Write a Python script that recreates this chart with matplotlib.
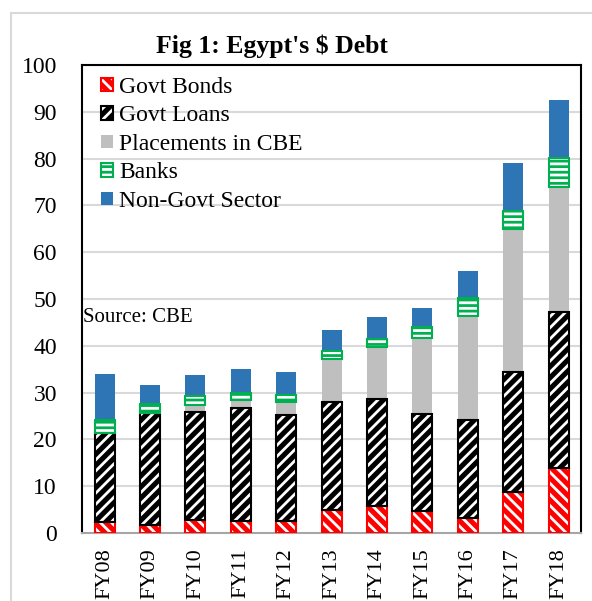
import numpy as np
import matplotlib
matplotlib.use("Agg")
import matplotlib.pyplot as plt
from matplotlib.lines import Line2D

plt.rcParams["font.family"] = ["Liberation Serif", "DejaVu Serif"]
plt.rcParams["hatch.linewidth"] = 2.0

# Egypt's external debt by holder, $ bn
years = ["FY08", "FY09", "FY10", "FY11", "FY12", "FY13",
         "FY14", "FY15", "FY16", "FY17", "FY18"]
govt_bonds = [2.4, 1.7, 2.8, 2.5, 2.6, 4.9, 5.8, 4.8, 3.3, 8.8, 13.9]
govt_loans = [19.0, 24.0, 23.1, 24.2, 22.6, 23.2, 22.9, 20.6, 20.8, 25.7, 33.4]
placements = [0.0, 0.0, 1.4, 1.7, 2.8, 9.1, 11.0, 16.3, 22.2, 30.5, 26.7]
banks = [2.7, 1.8, 2.0, 1.6, 1.5, 1.6, 1.7, 2.4, 4.0, 3.9, 6.1]
non_govt = [9.8, 4.1, 4.4, 5.0, 4.9, 4.5, 4.7, 4.0, 5.6, 10.1, 12.4]

series = [
    ("Govt Bonds", govt_bonds, "#FF0000", "white", "\\\\\\", "#FF0000"),
    ("Govt Loans", govt_loans, "black", "white", "///", "black"),
    ("Placements in CBE", placements, "#BFBFBF", "#BFBFBF", "", None),
    ("Banks", banks, "#00B050", "white", "---", "#00B050"),
    ("Non-Govt Sector", non_govt, "#2E75B6", "#2E75B6", "", None),
]

fig = plt.figure(figsize=(5.92, 6.01), dpi=100)
ax = fig.add_axes([0.1385, 0.113, 0.8435, 0.779])

x = np.arange(len(years))
w = 0.44
bottom = np.zeros(len(years))
handles = []
for label, vals, fc, hc, hatch, border in series:
    vals = np.array(vals)
    b = ax.bar(x, vals, w, bottom=bottom, color=fc, edgecolor=hc,
               hatch=hatch, linewidth=0, zorder=3)
    if border:
        e = ax.bar(x, vals, w, bottom=bottom, fill=False, edgecolor=border,
                   linewidth=1.5, zorder=4)
        handles.append((b, e))
    else:
        handles.append(b)
    bottom += vals

ax.set_ylim(0, 100)
ax.set_xlim(-0.5, 10.5)
ax.set_yticks(np.arange(0, 101, 10))
ax.set_xticks(x)
ax.set_xticklabels(years, rotation=90, fontsize=16)
ax.tick_params(axis="y", labelsize=17, length=0, pad=18)
ax.tick_params(axis="x", length=0, pad=11)
ax.yaxis.grid(True, color="#D9D9D9", linewidth=1.5, zorder=0)
ax.set_axisbelow(True)

for s in ["top", "left", "right"]:
    ax.spines[s].set_color("black")
    ax.spines[s].set_linewidth(1.5)
ax.spines["bottom"].set_color("#A6A6A6")
ax.spines["bottom"].set_linewidth(1.5)

ax.legend(handles, [s[0] for s in series], loc="upper left",
          bbox_to_anchor=(0.01, 1.005), frameon=False, fontsize=17,
          handlelength=0.5, handleheight=0.5, handletextpad=0.25,
          labelspacing=0.32, borderaxespad=0.2)

ax.text(0.003, 0.46, "Source: CBE", transform=ax.transAxes, fontsize=15,
        va="center", ha="left")

fig.text(0.46, 0.923, "Fig 1: Egypt's $ Debt", fontsize=18.5,
         fontweight="bold", ha="center", va="center")

# light frame around the whole chart
fig.add_artist(Line2D([11 / 592, 11 / 592], [0, 1 - 13 / 601],
                      transform=fig.transFigure, color="#D9D9D9", lw=1.5))
fig.add_artist(Line2D([11 / 592, 1], [1 - 13 / 601, 1 - 13 / 601],
                      transform=fig.transFigure, color="#D9D9D9", lw=1.5))

fig.savefig("out.png", dpi=100)
